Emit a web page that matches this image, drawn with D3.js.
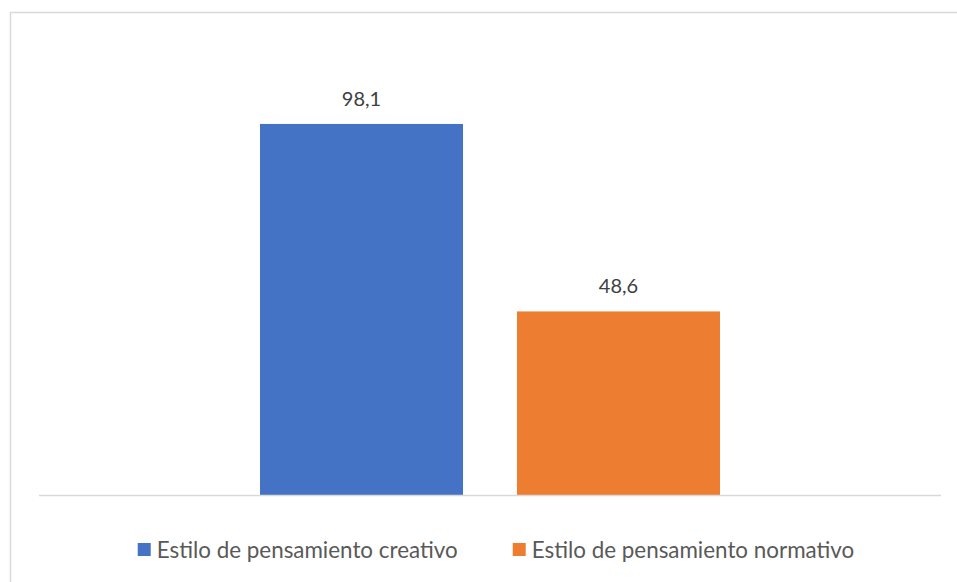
<!DOCTYPE html>
<html>
<head>
<meta charset="utf-8">
<script src="https://cdn.jsdelivr.net/npm/d3@7"></script>
<style>
  body { margin: 0; background: #fff; }
  svg { display: block; }
</style>
</head>
<body>
<div class="svg-container"></div>
<script>
// chart values
const series = ['Estilo de pensamiento creativo', 'Estilo de pensamiento normativo'];
const values = [98.1, 48.6];
const labels = ['98,1', '48,6'];
const colors = ['#4472c4', '#ed7d31'];

const width = 957;
const height = 582;
const plot = { left: 39, right: 941, top: 41, bottom: 495.5 };
const font = 'Lato, "Noto Sans", sans-serif';

const svg = d3.select('.svg-container')
  .append('svg')
  .attr('width', width)
  .attr('height', height);

// chart border (only top and left edges are in frame)
svg.append('rect')
  .attr('x', 10.5)
  .attr('y', 12.5)
  .attr('width', 1000)
  .attr('height', 700)
  .attr('fill', 'none')
  .attr('stroke', '#d9d9d9')
  .attr('stroke-width', 1.5);

// scales
const y = d3.scaleLinear()
  .domain([0, 120])
  .range([plot.bottom, plot.top]);

const x = d3.scaleBand()
  .domain(series)
  .range([221 + plot.left, plot.right - 221])
  .paddingInner(0.21);

// bars
svg.append('g')
  .selectAll('rect')
  .data(values)
  .enter()
  .append('rect')
  .attr('x', (d, i) => x(series[i]))
  .attr('y', d => y(d))
  .attr('width', x.bandwidth())
  .attr('height', d => y(0) - y(d))
  .style('fill', (d, i) => colors[i]);

// data labels
svg.append('g')
  .selectAll('text')
  .data(values)
  .enter()
  .append('text')
  .attr('x', (d, i) => x(series[i]) + x.bandwidth() / 2)
  .attr('y', d => y(d) - 18)
  .attr('text-anchor', 'middle')
  .style('font-family', font)
  .style('font-size', '20px')
  .style('fill', '#404040')
  .text((d, i) => labels[i]);

// baseline
svg.append('line')
  .attr('x1', plot.left)
  .attr('x2', plot.right)
  .attr('y1', y(0))
  .attr('y2', y(0))
  .attr('stroke', '#d9d9d9')
  .attr('stroke-width', 1.5);

// legend
const legend = svg.append('g');
const legendY = 550;
const items = series.map((s, i) => {
  const g = legend.append('g');
  g.append('rect')
    .attr('width', 13)
    .attr('height', 13)
    .attr('y', legendY - 7)
    .style('fill', colors[i]);
  const t = g.append('text')
    .attr('x', 19)
    .attr('y', legendY + 7.5)
    .style('font-family', font)
    .style('font-size', '22.4px')
    .style('fill', '#595959')
    .text(s);
  return { g, w: 19 + t.node().getComputedTextLength() };
});
const gap = 55;
const total = items.reduce((a, b) => a + b.w, 0) + gap;
let cx = 496 - total / 2;
items.forEach(it => {
  it.g.attr('transform', `translate(${cx},0)`);
  cx += it.w + gap;
});
</script>
</body>
</html>
